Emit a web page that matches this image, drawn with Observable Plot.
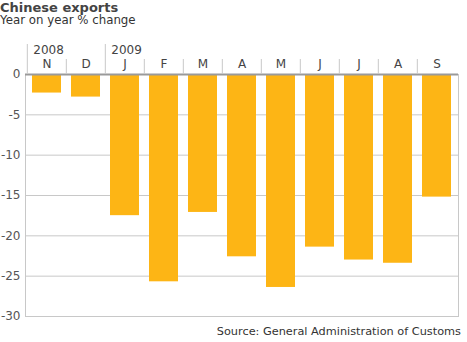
<!DOCTYPE html>
<html>
<head>
<meta charset="utf-8">
<script src="https://cdn.jsdelivr.net/npm/d3@7"></script>
<script src="https://cdn.jsdelivr.net/npm/@observablehq/plot@0.6"></script>
<style>
  html, body { margin: 0; padding: 0; background: #fff; }
  #wrap { position: relative; width: 467px; height: 342px; font-family: Verdana, "DejaVu Sans", sans-serif; overflow: hidden; }
  #title { position: absolute; left: 0; top: 1.5px; font-size: 13px; line-height: 12px; font-weight: bold; color: #444; white-space: nowrap; }
  #subtitle { position: absolute; left: 0; top: 14px; font-size: 11.8px; line-height: 12px; color: #333; white-space: nowrap; }
  #caption { position: absolute; right: 6px; top: 325px; font-size: 11.3px; line-height: 14px; color: #333; white-space: nowrap; }
  #chart { position: absolute; left: 0; top: 0; }
</style>
</head>
<body>
<div id="wrap">
  <div id="chart"></div>
  <div id="title">Chinese exports</div>
  <div id="subtitle">Year on year % change</div>
  <div id="caption">Source: General Administration of Customs</div>
</div>
<script>
const months = ["N", "D", "J", "F", "M", "A", "M", "J", "J", "A", "S"];
const years = ["2008", "2008", "2009", "2009", "2009", "2009", "2009", "2009", "2009", "2009", "2009"];
const values = [-2.3, -2.8, -17.5, -25.7, -17.1, -22.6, -26.4, -21.4, -23.0, -23.4, -15.2];
const yTicks = [0, -5, -10, -15, -20, -25, -30];

const data = months.map((m, i) => ({key: i, month: m, year: years[i], value: values[i]}));
const yearStarts = data.filter((d, i) => i === 0 || years[i] !== years[i - 1]);
const monthBounds = data.filter((d, i) => i > 0 && years[i] === years[i - 1]);

const W = 467, H = 342, mL = 25, mR = 9, mT = 74, mB = 26;
const padInner = 0.265;
const step = (W - mL - mR) / months.length;

const chart = Plot.plot({
  width: W,
  height: H,
  marginLeft: mL,
  marginRight: mR,
  marginTop: mT,
  marginBottom: mB,
  style: {fontFamily: "Verdana, 'DejaVu Sans', sans-serif", color: "#444", background: "transparent"},
  x: {domain: data.map(d => d.key), paddingInner: padInner, paddingOuter: padInner / 2, axis: null, label: null},
  y: {domain: [-30, 0], axis: null, label: null},
  marks: [
    Plot.gridY(yTicks, {stroke: "#c8c8c8", strokeOpacity: 1}),
    Plot.frame({stroke: "#c8c8c8"}),
    Plot.barY(data, {x: "key", y1: 0, y2: "value", fill: "#fdb515", insetTop: 1}),
    Plot.ruleY([0], {stroke: "#9a9a9a", strokeWidth: 2}),
    Plot.ruleX(monthBounds, {x: "key", y1: 0, y2: 0, insetTop: -15, dx: -step / 2, stroke: "#c8c8c8"}),
    Plot.ruleX(yearStarts, {x: "key", y1: 0, y2: 0, insetTop: -30, dx: -step / 2, stroke: "#c8c8c8"}),
    Plot.axisY(yTicks, {tickSize: 0, tickPadding: 5, fontSize: 12, fill: "#555", label: null, tickFormat: d => String(d)}),
    Plot.axisX(data.map(d => d.key), {anchor: "top", tickSize: 0, tickPadding: 7, fontSize: 12, fill: "#444", label: null, tickFormat: i => months[i]}),
    Plot.text(yearStarts, {x: "key", y: 0, text: "year", textAnchor: "start", dx: -step / 2 + 6, dy: -24, fontSize: 12, fill: "#444"})
  ]
});
document.getElementById("chart").appendChild(chart);
</script>
</body>
</html>
